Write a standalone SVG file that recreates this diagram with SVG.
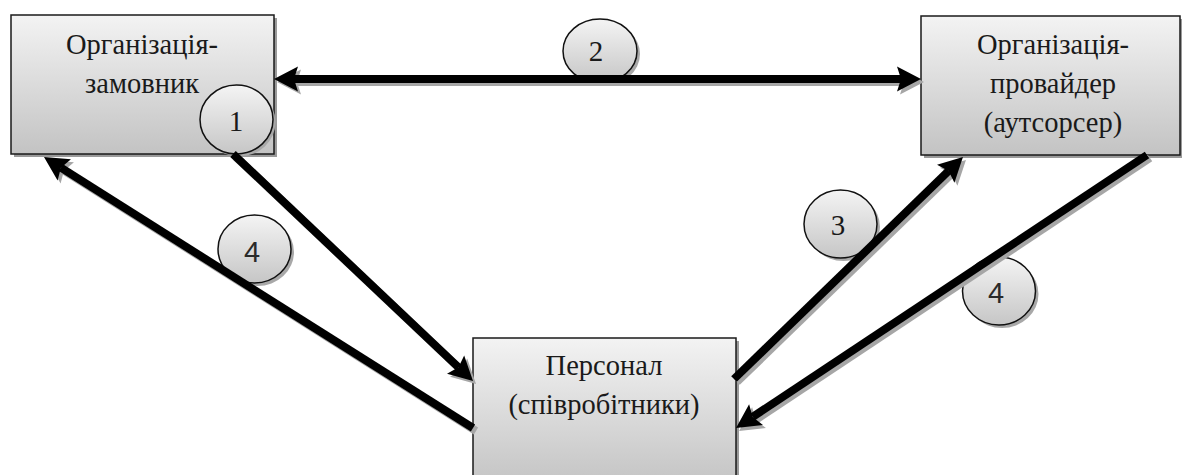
<svg xmlns="http://www.w3.org/2000/svg" width="1182" height="475" viewBox="0 0 1182 475">
  <style>
    .box { stroke: #1a1a1a; stroke-width: 1.5; fill: url(#boxFill); }
    .boxShadow { fill: #9a9a9a; }
    .label { font-family: "Liberation Serif", "Times New Roman", serif; font-size: 28.5px; fill: #1a1a1a; text-anchor: middle; }
    .num { font-family: "Liberation Serif", "Times New Roman", serif; font-size: 29px; fill: #1a1a1a; text-anchor: middle; }
    .numSans { font-family: "Liberation Sans", Arial, sans-serif; font-size: 29px; fill: #2a2a2a; text-anchor: middle; }
    .badge { stroke: #111; stroke-width: 1.5; fill: url(#badgeFill); }
    .badgeShadow { fill: #a8a8a8; }
    .link { stroke: #000; stroke-width: 8; fill: none; marker-end: url(#head); }
    .linkShadow { stroke: #a6a6a6; stroke-width: 8; fill: none; marker-end: url(#headShadow); }
  </style>
  <defs>
    <linearGradient id="boxFill" x1="0" y1="0" x2="0" y2="1">
      <stop offset="0" stop-color="#f3f3f3"/>
      <stop offset="1" stop-color="#c3c3c3"/>
    </linearGradient>
    <linearGradient id="badgeFill" x1="0" y1="0" x2="0" y2="1">
      <stop offset="0" stop-color="#f4f4f4"/>
      <stop offset="1" stop-color="#c6c6c6"/>
    </linearGradient>
    <marker id="head" markerUnits="userSpaceOnUse" markerWidth="26" markerHeight="26" refX="4" refY="12.5" orient="auto-start-reverse" overflow="visible">
      <path d="M0,0 L24,12.5 L0,25 L4,12.5 Z" fill="#000"/>
    </marker>
    <marker id="headShadow" markerUnits="userSpaceOnUse" markerWidth="26" markerHeight="26" refX="4" refY="12.5" orient="auto-start-reverse" overflow="visible">
      <path d="M0,0 L24,12.5 L0,25 L4,12.5 Z" fill="#a6a6a6"/>
    </marker>
  </defs>

  <rect width="1182" height="475" fill="#ffffff"/>

  <!-- Customer organisation -->
  <g id="customer">
    <rect class="boxShadow" x="14" y="18" width="263" height="139"/>
    <rect class="box" x="11" y="15" width="263" height="139"/>
    <text class="label" x="142" y="54">Організація-</text>
    <text class="label" x="142" y="93">замовник</text>
  </g>

  <!-- Provider organisation -->
  <g id="provider">
    <rect class="boxShadow" x="924" y="19" width="262" height="139"/>
    <rect class="box" x="921" y="16" width="259" height="139"/>
    <text class="label" x="1053" y="54">Організація-</text>
    <text class="label" x="1053" y="93">провайдер</text>
    <text class="label" x="1053" y="132">(аутсорсер)</text>
  </g>

  <!-- Staff -->
  <g id="staff">
    <rect class="boxShadow" x="476" y="341" width="263" height="150"/>
    <rect class="box" x="473" y="338" width="263" height="150"/>
    <text class="label" x="604" y="375">Персонал</text>
    <text class="label" x="604" y="414">(співробітники)</text>
  </g>

  <!-- Numbered badges -->
  <g id="badge-1">
    <ellipse class="badgeShadow" cx="239" cy="122" rx="36.5" ry="34.5"/>
    <ellipse class="badge" cx="236.5" cy="119.5" rx="36.5" ry="34.5"/>
    <text class="num" x="236" y="131">1</text>
  </g>
  <g id="badge-2">
    <ellipse class="badgeShadow" cx="603" cy="54" rx="37" ry="32"/>
    <ellipse class="badge" cx="600" cy="51" rx="37" ry="32"/>
    <text class="num" x="596" y="61">2</text>
  </g>
  <g id="badge-4a">
    <ellipse class="badgeShadow" cx="257.5" cy="252" rx="36.5" ry="34"/>
    <ellipse class="badge" cx="254.5" cy="249" rx="36.5" ry="34"/>
    <text class="numSans" x="252" y="262">4</text>
  </g>
  <g id="badge-3">
    <ellipse class="badgeShadow" cx="843.5" cy="227" rx="36.5" ry="34"/>
    <ellipse class="badge" cx="840.5" cy="224" rx="36.5" ry="34"/>
    <text class="num" x="838" y="235">3</text>
  </g>
  <g id="badge-4b">
    <ellipse class="badgeShadow" cx="1002" cy="294" rx="36.5" ry="34"/>
    <ellipse class="badge" cx="999" cy="291" rx="36.5" ry="34"/>
    <text class="numSans" x="996" y="303">4</text>
  </g>

  <!-- Connectors -->
  <g id="connectors">
    <g transform="translate(3,3)">
      <path class="linkShadow" d="M294,79 L901,79" marker-start="url(#headShadow)"/>
      <path class="linkShadow" d="M233,154 L458.5,367.3"/>
      <path class="linkShadow" d="M473,428 L60.9,167.7"/>
      <path class="linkShadow" d="M734,379 L948.6,170.9"/>
      <path class="linkShadow" d="M1147,155 L752.7,416.9"/>
    </g>
    <path class="link" d="M294,79 L901,79" marker-start="url(#head)"/>
    <path class="link" d="M233,154 L458.5,367.3"/>
    <path class="link" d="M473,428 L60.9,167.7"/>
    <path class="link" d="M734,379 L948.6,170.9"/>
    <path class="link" d="M1147,155 L752.7,416.9"/>
  </g>
</svg>
